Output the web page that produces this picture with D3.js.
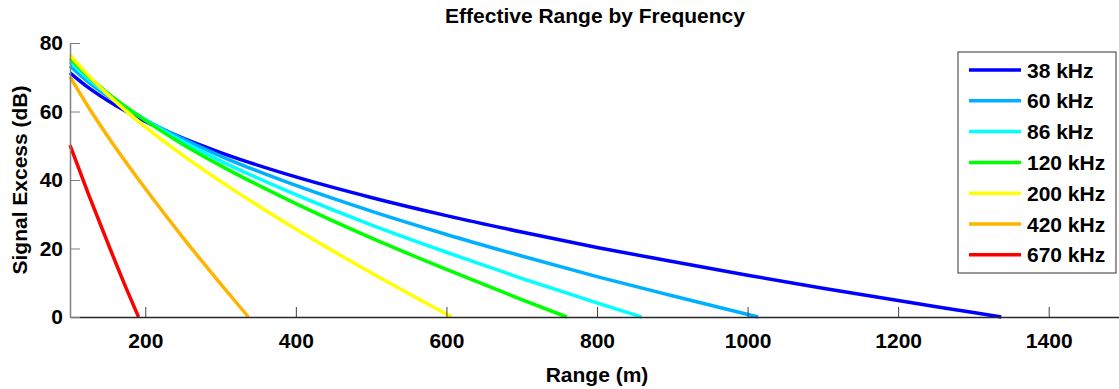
<!DOCTYPE html>
<html>
<head>
<meta charset="utf-8">
<script src="https://cdn.jsdelivr.net/npm/d3@7"></script>
<style>
  body { margin: 0; background: #fff; }
  svg { font-family: "Liberation Sans", Arial, sans-serif; font-weight: bold; }
</style>
</head>
<body>
<svg width="1119" height="389"></svg>
<script>
// frequencies and colours
var freqs = ["38 kHz", "60 kHz", "86 kHz", "120 kHz", "200 kHz", "420 kHz", "670 kHz"];
var colors = ["#0000ff", "#00b0ff", "#00ffff", "#00ff00", "#ffff00", "#ffb400", "#ff0000"];

// range (m) / signal excess (dB)
var range38 = [100, 125, 150, 200, 250, 300, 400, 500, 600, 700, 800, 900, 1000, 1100, 1200, 1300, 1337];
var se38 = [71.3, 66.9, 63.2, 57.1, 52.2, 48.0, 40.9, 34.9, 29.6, 24.8, 20.3, 16.2, 12.2, 8.4, 4.8, 1.3, 0];
var range60 = [100, 125, 150, 200, 250, 300, 400, 500, 600, 700, 800, 900, 1014];
var se60 = [73.3, 68.5, 64.5, 57.6, 52.0, 47.0, 38.4, 30.9, 24.1, 17.8, 11.8, 6.2, 0];
var range86 = [100, 125, 150, 200, 250, 300, 400, 500, 600, 700, 800, 859];
var se86 = [74.5, 69.4, 65.0, 57.6, 51.2, 45.6, 35.7, 26.9, 18.9, 11.3, 4.1, 0];
var range120 = [100, 125, 150, 200, 250, 300, 400, 500, 600, 700, 760];
var se120 = [75.5, 70.1, 65.4, 57.4, 50.4, 44.2, 33.1, 23.1, 13.9, 5.1, 0];
var range200 = [100, 125, 150, 200, 250, 300, 400, 500, 607];
var se200 = [76.5, 70.4, 65.0, 55.5, 47.2, 39.6, 25.7, 12.9, 0];
var range420 = [100, 125, 150, 200, 250, 300, 337];
var se420 = [70.2, 61.1, 52.8, 37.5, 23.2, 9.7, 0];
var range670 = [100, 125, 150, 175, 191];
var se670 = [50.2, 35.6, 21.7, 8.2, 0];

var ranges = [range38, range60, range86, range120, range200, range420, range670];
var values = [se38, se60, se86, se120, se200, se420, se670];

var xTicks = [200, 400, 600, 800, 1000, 1200, 1400];
var yTicks = [0, 20, 40, 60, 80];

var svg = d3.select("svg"),
    margin = {top: 43, left: 70},
    width = 1054,
    height = 274;

var x = d3.scaleLinear().domain([100, 1500]).range([0, width]);
var y = d3.scaleLinear().domain([0, 80]).range([height, 0]);

var g = svg.append("g").attr("transform", "translate(" + margin.left + "," + margin.top + ")");

var line = d3.line()
    .curve(d3.curveMonotoneX)
    .x(function(d) { return x(d[0]); })
    .y(function(d) { return y(d[1]); });

for (var i = 0; i < freqs.length; i++) {
    var pts = ranges[i].map(function(r, j) { return [r, values[i][j]]; });
    g.append("path")
        .datum(pts)
        .attr("fill", "none")
        .attr("stroke", colors[i])
        .attr("stroke-width", 3.5)
        .attr("d", line);
}

// axes
var xAxis = g.append("g")
    .attr("transform", "translate(0," + height + ")")
    .call(d3.axisBottom(x).tickValues(xTicks).tickFormat(d3.format("d"))
        .tickSizeInner(-10).tickSizeOuter(0).tickPadding(16));
xAxis.select(".domain").attr("stroke", "#262626").attr("stroke-width", 1.5);
xAxis.selectAll(".tick line").attr("stroke", "#404040");
xAxis.selectAll("text").attr("font-size", 21).attr("fill", "#000").attr("font-weight", "bold")
    .attr("font-family", "Liberation Sans, Arial, sans-serif");

var yAxis = g.append("g")
    .call(d3.axisLeft(y).tickValues(yTicks).tickFormat(d3.format("d"))
        .tickSizeInner(-10).tickSizeOuter(0).tickPadding(7));
yAxis.select(".domain").attr("stroke", "#808080").attr("stroke-width", 1.5);
yAxis.selectAll(".tick line").attr("stroke", "#808080");
yAxis.selectAll("text").attr("font-size", 21).attr("fill", "#000").attr("font-weight", "bold")
    .attr("font-family", "Liberation Sans, Arial, sans-serif");

// titles
svg.append("text")
    .attr("x", 595).attr("y", 23)
    .attr("text-anchor", "middle")
    .attr("font-size", 21)
    .text("Effective Range by Frequency");

svg.append("text")
    .attr("x", 597).attr("y", 382)
    .attr("text-anchor", "middle")
    .attr("font-size", 21)
    .text("Range (m)");

svg.append("text")
    .attr("transform", "translate(27," + (margin.top + height / 2) + ") rotate(-90)")
    .attr("text-anchor", "middle")
    .attr("font-size", 21)
    .text("Signal Excess (dB)");

// legend
var leg = svg.append("g").attr("transform", "translate(958,52)");
leg.append("rect")
    .attr("width", 158).attr("height", 221)
    .attr("fill", "#fff")
    .attr("stroke", "#333")
    .attr("stroke-width", 1);

for (var i = 0; i < freqs.length; i++) {
    var ly = 18 + i * 30.8;
    leg.append("line")
        .attr("x1", 11).attr("x2", 63)
        .attr("y1", ly).attr("y2", ly)
        .attr("stroke", colors[i])
        .attr("stroke-width", 3.5);
    leg.append("text")
        .attr("x", 69).attr("y", ly + 7.5)
        .attr("font-size", 21)
        .text(freqs[i]);
}
</script>
</body>
</html>
